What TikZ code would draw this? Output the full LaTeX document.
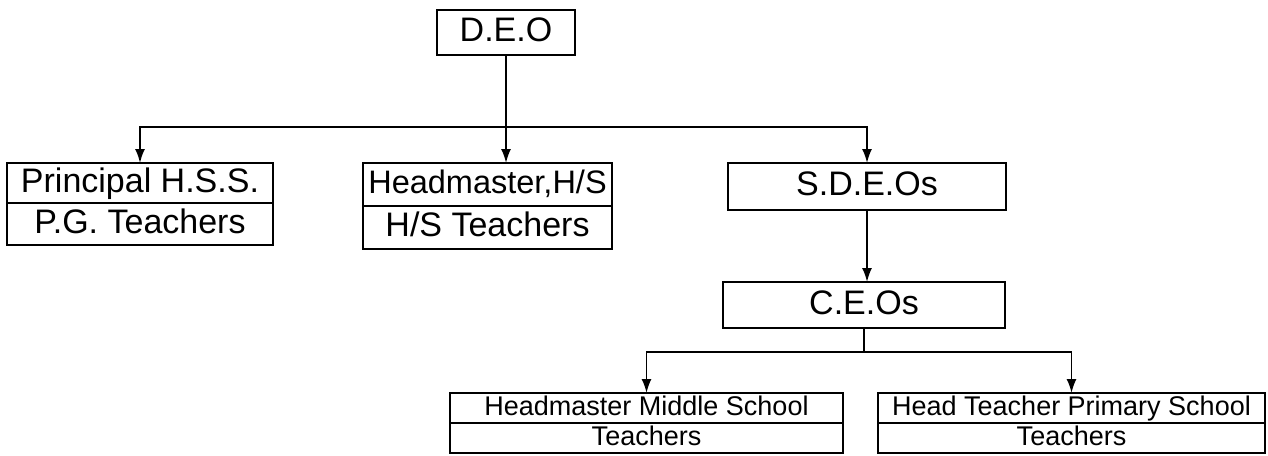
\documentclass[tikz,border=0pt]{standalone}
\usepackage{fontspec}
\setmainfont{Liberation Sans}
\usetikzlibrary{positioning,arrows.meta}

\begin{document}
\begin{tikzpicture}[
    x=1pt, y=-1pt,
    box/.style={rectangle, draw, line width=1.8pt, outer sep=0pt, inner xsep=1pt, inner ysep=0pt, align=center},
    bigbox/.style={box, font=\fontsize{34}{40}\selectfont, text height=25pt, text depth=7pt},
    smallbox/.style={box, font=\fontsize{27}{30}\selectfont, text height=20pt, text depth=5pt, minimum height=30pt},
    arrow/.style={-{Latex[length=14pt,width=10pt]}, line width=1.8pt}
]
    \useasboundingbox (0,0) rectangle (1268,455);

    \node[bigbox, minimum width=138pt, minimum height=45pt] (deo) at (506,32.5) {D.E.O};

    \node[bigbox, minimum width=266pt, minimum height=40pt] (principal) at (140,183) {Principal H.S.S.};
    \node[bigbox, minimum width=266pt, minimum height=42pt, below=0pt of principal] (pgteach) {P.G. Teachers};

    \node[bigbox, minimum width=249pt, minimum height=43pt, font=\fontsize{32.5}{40}\selectfont] (headmaster) at (487.5,184.5) {Headmaster,H/S};
    \node[bigbox, minimum width=249pt, minimum height=43pt, below=0pt of headmaster] (hsteach) {H/S Teachers};

    \node[bigbox, minimum width=278pt, minimum height=47pt] (sdeo) at (867,186.5) {S.D.E.Os};
    \node[bigbox, minimum width=282pt, minimum height=46pt, below=72pt of sdeo, xshift=-3pt] (ceo) {C.E.Os};

    \node[smallbox, minimum width=393pt] (hmms) at (646.5,408) {Headmaster Middle School};
    \node[smallbox, minimum width=393pt, below=0pt of hmms] (mteach) {Teachers};

    \node[smallbox, minimum width=387pt] (htps) at (1071.5,408) {Head Teacher Primary School};
    \node[smallbox, minimum width=387pt, below=0pt of htps] (pteach) {Teachers};

    \coordinate (bus) at (deo.south |- 0,127);
    \coordinate (ceobus) at (ceo.south |- 0,352);

    \draw[arrow] (deo.south) -- (deo.south |- headmaster.north);
    \draw[arrow] (bus) -| (principal.north);
    \draw[arrow] (bus) -| (sdeo.north);
    \draw[arrow] (sdeo.south) -- (sdeo.south |- ceo.north);
    \draw[line width=1.8pt] (ceo.south) -- (ceobus);
    \draw[arrow] (ceobus) -| (hmms.north);
    \draw[arrow] (ceobus) -| (htps.north);
\end{tikzpicture}
\end{document}
